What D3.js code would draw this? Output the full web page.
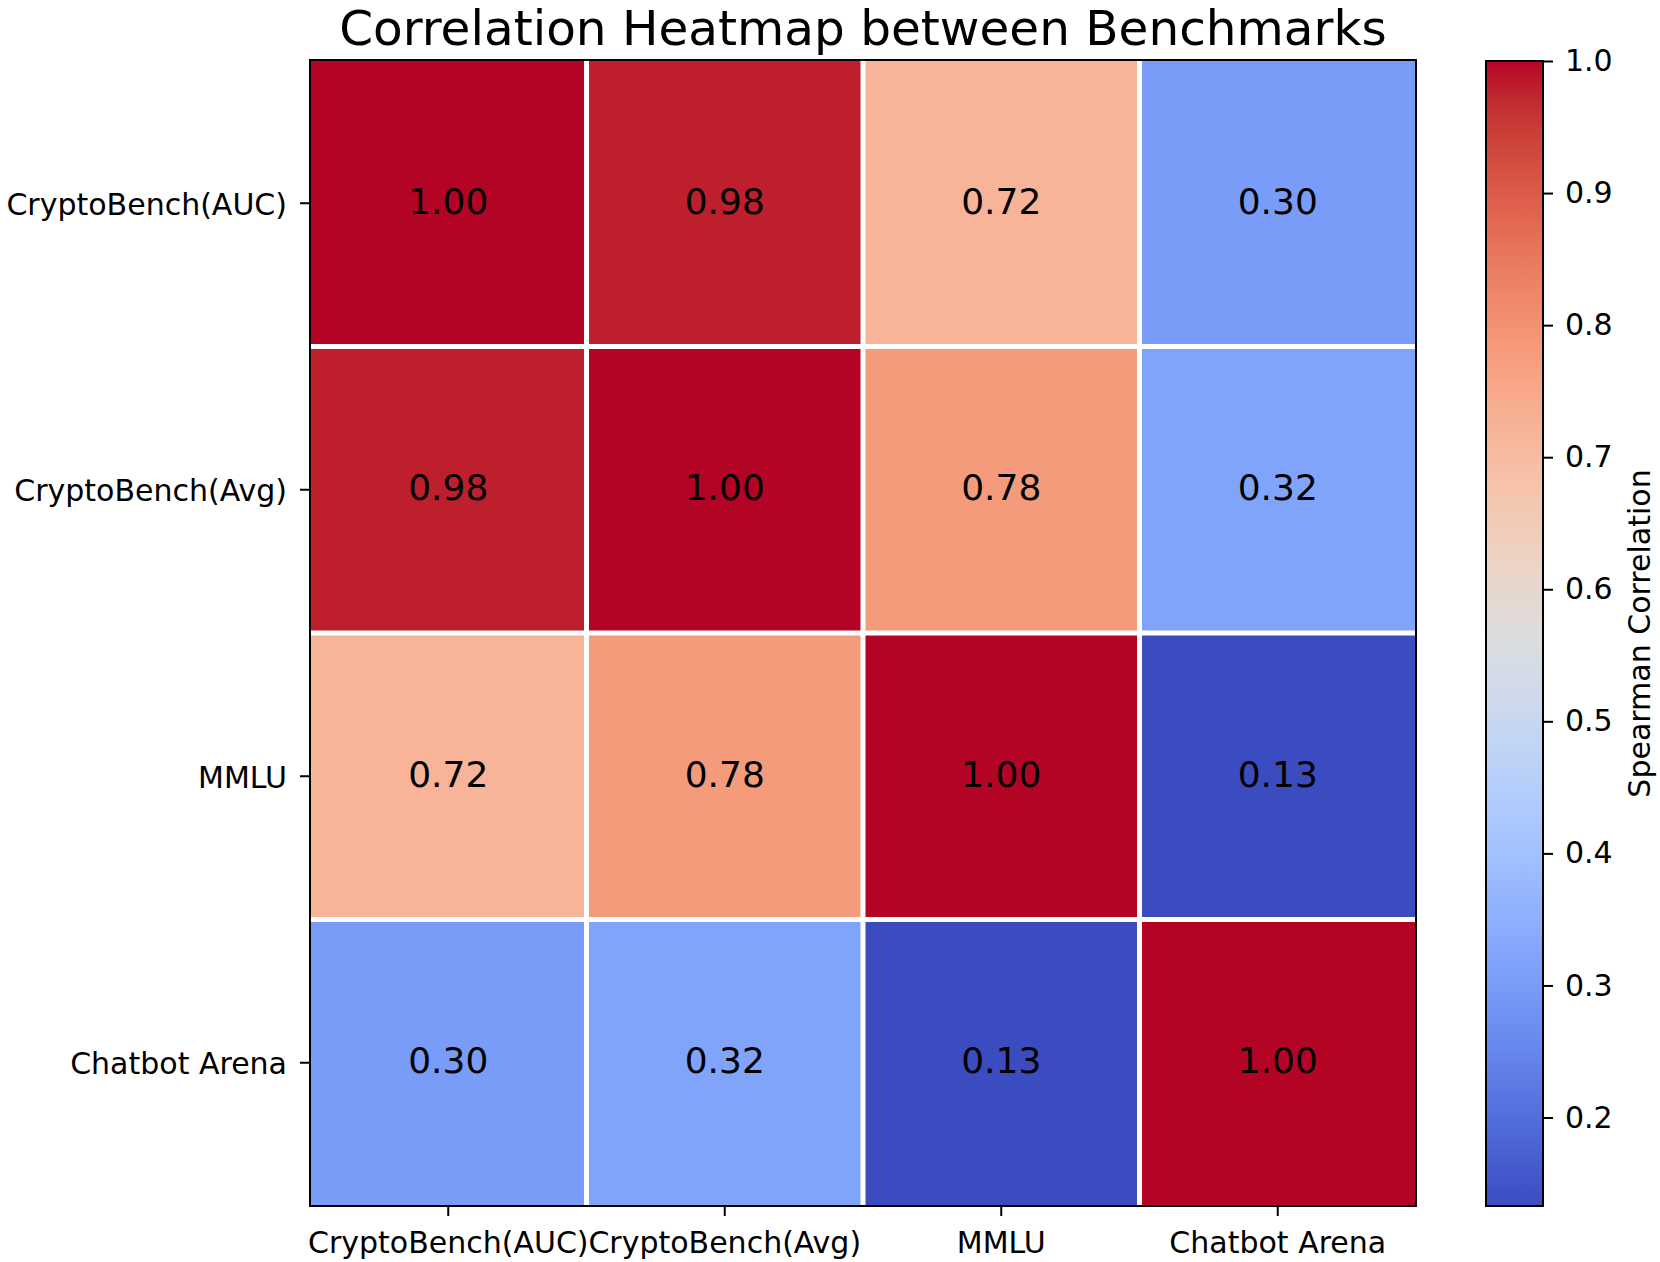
<!DOCTYPE html>
<html>
<head>
<meta charset="utf-8">
<script src="https://cdn.jsdelivr.net/npm/d3@7"></script>
<style>
  body { margin: 0; background: #fff; }
  text { font-family: "DejaVu Sans", sans-serif; fill: #000; }
</style>
</head>
<body>
<script>
// benchmark names, same order on both axes
const benchmarks = ["CryptoBench(AUC)", "CryptoBench(Avg)", "MMLU", "Chatbot Arena"];

// spearman correlation, one row per benchmark
const rowAUC   = [1.00, 0.98, 0.72, 0.30];
const rowAvg   = [0.98, 1.00, 0.78, 0.32];
const rowMMLU  = [0.72, 0.78, 1.00, 0.133];
const rowArena = [0.30, 0.32, 0.133, 1.00];
const matrix = [rowAUC, rowAvg, rowMMLU, rowArena];

const colorbarTicks = [0.2, 0.3, 0.4, 0.5, 0.6, 0.7, 0.8, 0.9, 1.0];

// matplotlib "coolwarm" (Moreland) control colours
const coolwarm = [
  [59,76,192],[68,90,204],[77,104,215],[87,117,225],[98,130,234],[108,142,241],
  [119,154,247],[130,165,251],[141,176,254],[152,185,255],[163,194,255],[174,201,253],
  [184,208,249],[194,213,244],[204,217,238],[213,219,230],[221,221,221],[229,216,209],
  [236,211,197],[241,204,185],[245,196,173],[247,187,160],[247,177,148],[247,166,135],
  [244,154,123],[241,141,111],[236,127,99],[229,112,88],[222,96,77],[213,80,66],
  [203,62,56],[192,40,47],[180,4,38]
].map(c => d3.rgb(c[0], c[1], c[2]).formatHex());
const coolwarmInterp = d3.piecewise(d3.interpolateRgb, coolwarm);

const W = 1660, H = 1262;
const plot = {left: 310, top: 60, right: 1416, bottom: 1206};
const cbar = {left: 1486, right: 1543, top: 61, bottom: 1206};

const allValues = matrix.flat();
const vmin = d3.min(allValues), vmax = d3.max(allValues);
const color = d3.scaleSequential(coolwarmInterp).domain([vmin, vmax]);

const svg = d3.select("body").append("svg")
  .attr("width", W)
  .attr("height", H);
svg.append("rect").attr("width", W).attr("height", H).attr("fill", "#fff");

const x = d3.scaleBand().domain(benchmarks).range([plot.left, plot.right]);
const y = d3.scaleBand().domain(benchmarks).range([plot.top, plot.bottom]);

// cells
const cells = [];
matrix.forEach((row, i) => row.forEach((v, j) => cells.push({r: benchmarks[i], c: benchmarks[j], v})));

svg.append("g").selectAll("rect")
  .data(cells)
  .join("rect")
  .attr("x", d => x(d.c))
  .attr("y", d => y(d.r))
  .attr("width", x.bandwidth())
  .attr("height", y.bandwidth())
  .attr("fill", d => color(d.v));

// white separators between cells (inner edges only)
const grid = svg.append("g").attr("stroke", "#fff").attr("stroke-width", 5);
benchmarks.slice(1).forEach(b => {
  grid.append("line").attr("x1", x(b)).attr("x2", x(b)).attr("y1", plot.top).attr("y2", plot.bottom);
  grid.append("line").attr("y1", y(b)).attr("y2", y(b)).attr("x1", plot.left).attr("x2", plot.right);
});

// annotations
svg.append("g").selectAll("text")
  .data(cells)
  .join("text")
  .attr("x", d => x(d.c) + x.bandwidth() / 2)
  .attr("y", d => y(d.r) + y.bandwidth() / 2)
  .attr("dy", "0.29em")
  .attr("text-anchor", "middle")
  .style("font-size", "36px")
  .text(d => d3.format(".2f")(d.v));

// frame
svg.append("rect")
  .attr("x", plot.left).attr("y", plot.top)
  .attr("width", plot.right - plot.left).attr("height", plot.bottom - plot.top)
  .attr("fill", "none").attr("stroke", "#000").attr("stroke-width", 2);

// axes
const xAxis = svg.append("g")
  .attr("transform", `translate(0,${plot.bottom})`)
  .call(d3.axisBottom(x).tickSize(10).tickPadding(8));
const yAxis = svg.append("g")
  .attr("transform", `translate(${plot.left},0)`)
  .call(d3.axisLeft(y).tickSize(10).tickPadding(13));
[xAxis, yAxis].forEach(a => {
  a.select(".domain").remove();
  a.selectAll(".tick line").attr("stroke", "#000").attr("stroke-width", 2);
  a.selectAll(".tick text").style("font-size", "30px").style("font-family", "DejaVu Sans");
});
xAxis.selectAll(".tick text").attr("dy", "0.95em");
yAxis.selectAll(".tick text").attr("dy", "0.38em");

// title
svg.append("text")
  .attr("x", (plot.left + plot.right) / 2)
  .attr("y", 45)
  .attr("text-anchor", "middle")
  .style("font-size", "48.5px")
  .text("Correlation Heatmap between Benchmarks");

// colour bar
const cy = d3.scaleLinear().domain([vmin, vmax]).range([cbar.bottom, cbar.top]);
const grad = svg.append("defs").append("linearGradient")
  .attr("id", "cw").attr("x1", 0).attr("x2", 0).attr("y1", 1).attr("y2", 0);
coolwarm.forEach((c, i) => grad.append("stop")
  .attr("offset", i / (coolwarm.length - 1)).attr("stop-color", c));

svg.append("rect")
  .attr("x", cbar.left).attr("y", cbar.top)
  .attr("width", cbar.right - cbar.left).attr("height", cbar.bottom - cbar.top)
  .attr("fill", "url(#cw)")
  .attr("stroke", "#000").attr("stroke-width", 2);

const cAxis = svg.append("g")
  .attr("transform", `translate(${cbar.right},0)`)
  .call(d3.axisRight(cy).tickValues(colorbarTicks).tickFormat(d3.format(".1f")).tickSize(10).tickPadding(12));
cAxis.select(".domain").remove();
cAxis.selectAll(".tick line").attr("stroke", "#000").attr("stroke-width", 2);
cAxis.selectAll(".tick text").style("font-size", "30px").style("font-family", "DejaVu Sans");

svg.append("text")
  .attr("transform", `translate(1650,${(cbar.top + cbar.bottom) / 2}) rotate(-90)`)
  .attr("text-anchor", "middle")
  .style("font-size", "30px")
  .text("Spearman Correlation");
</script>
</body>
</html>
